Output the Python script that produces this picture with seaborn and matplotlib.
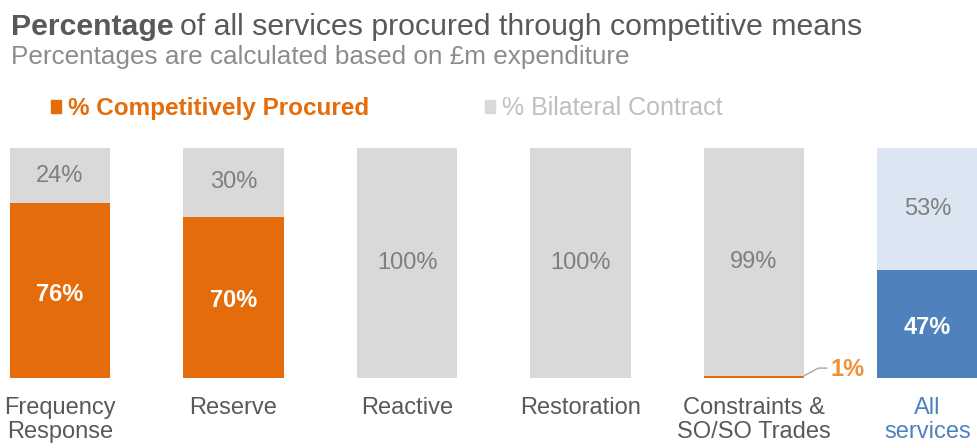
import matplotlib
matplotlib.use("Agg")
import matplotlib.pyplot as plt
import seaborn as sns
import pandas as pd
from matplotlib.patches import Patch

categories = ["Frequency\nResponse", "Reserve", "Reactive", "Restoration",
              "Constraints &\nSO/SO Trades", "All\nservices"]
competitive = [76, 70, 0, 0, 1, 47]
bilateral = [24, 30, 100, 100, 99, 53]

ORANGE = "#E46C0A"
GREY = "#D9D9D9"
BLUE = "#4F81BD"
LBLUE = "#DCE6F2"
TXT = "#595959"
VAL = "#7F7F7F"

sns.set_theme(style="white")
plt.rcParams["font.family"] = ["Liberation Sans", "DejaVu Sans"]

df = pd.DataFrame({"cat": categories, "comp": competitive, "bil": bilateral})
df["total"] = df["comp"] + df["bil"]

W, H = 977, 448
fig = plt.figure(figsize=(W / 100, H / 100), dpi=100)
ax = fig.add_axes([0, 70 / H, 1, 230 / H])

top_cols = [GREY] * 5 + [LBLUE]
bot_cols = [ORANGE] * 5 + [BLUE]
sns.barplot(data=df, x="cat", y="total", hue="cat", palette=top_cols, width=0.58,
            legend=False, ax=ax, saturation=1, linewidth=0)
sns.barplot(data=df, x="cat", y="comp", hue="cat", palette=bot_cols, width=0.58,
            legend=False, ax=ax, saturation=1, linewidth=0)

ax.set_xlim(-0.346, 5.285)
ax.set_ylim(0, 100)
for s in ax.spines.values():
    s.set_visible(False)
ax.set_yticks([])
ax.set_xlabel("")
ax.set_ylabel("")
ax.tick_params(axis="x", length=0, pad=14)
ax.set_xticks(range(len(categories)))
ax.set_xticklabels(categories, fontsize=17, linespacing=1.12, va="top")
for i, lab in enumerate(ax.get_xticklabels()):
    lab.set_color(BLUE if i == len(categories) - 1 else TXT)

VFS = 17
for i, (c, b) in enumerate(zip(competitive, bilateral)):
    if c >= 5:
        ax.text(i, c / 2 - 1.5, f"{c}%", ha="center", va="center", color="white",
                fontsize=VFS, fontweight="bold")
    if b >= 5:
        ax.text(i, c + b / 2, f"{b}%", ha="center", va="center", color=VAL,
                fontsize=VFS)

# small 1% label with leader line
i = 4
c = competitive[i]
ax.plot([i + 0.29, i + 0.37, i + 0.42], [c, 4.3, 4.3], color="#A6A6A6", lw=1)
ax.text(i + 0.44, 3.5, f"{c}%", ha="left", va="center", color="#F0903A",
        fontsize=VFS, fontweight="bold")

# title: bold word + normal rest
t1 = fig.text(11 / W, 1 - 35 / H, "Percentage", fontsize=21.8, fontweight="bold",
              color=TXT, va="baseline", ha="left")
fig.canvas.draw()
bb = t1.get_window_extent()
fig.text(bb.x1 / W + 6 / W, 1 - 35 / H, "of all services procured through competitive means",
         fontsize=21.8, color=TXT, va="baseline", ha="left")
fig.text(11 / W, 1 - 64 / H, "Percentages are calculated based on £m expenditure",
         fontsize=18.8, color="#8C8C8C", va="baseline", ha="left")

handles = [Patch(color=ORANGE), Patch(color=GREY)]
leg = fig.legend(handles, ["% Competitively Procured", "% Bilateral Contract"],
                 loc="center left", bbox_to_anchor=(29 / W, 1 - 108 / H), ncol=2,
                 frameon=False, handlelength=0.42, handleheight=0.42, handletextpad=0.3,
                 columnspacing=4.75, fontsize=17.5)
txts = leg.get_texts()
txts[0].set_color(ORANGE)
txts[0].set_fontweight("bold")
txts[1].set_color("#BFBFBF")
txts[1].set_fontsize(18)

fig.savefig("out.png", dpi=100)
